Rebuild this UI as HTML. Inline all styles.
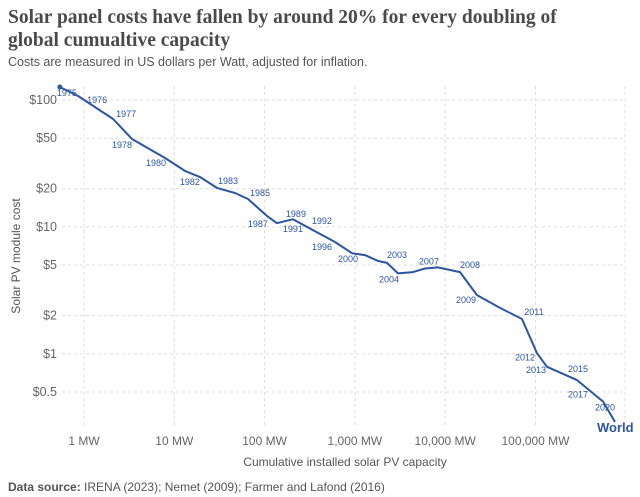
<!DOCTYPE html>
<html><head><meta charset="utf-8"><style>
body{margin:0;background:#fff;width:640px;height:497px;overflow:hidden;font-family:"Liberation Sans",sans-serif}
svg{display:block}
</style></head><body>
<svg id="c" width="640" height="497">
<text x="8" y="23" font-family="Liberation Serif,serif" font-weight="bold" font-size="19.5" fill="#4a4a4a">Solar panel costs have fallen by around 20% for every doubling of</text>
<text x="8" y="46" font-family="Liberation Serif,serif" font-weight="bold" font-size="19.5" fill="#4a4a4a">global cumualtive capacity</text>
<text x="8" y="66" font-size="12.5" fill="#555">Costs are measured in US dollars per Watt, adjusted for inflation.</text>
<text transform="translate(20,256) rotate(-90)" text-anchor="middle" font-size="12" fill="#555">Solar PV module cost</text>
<text x="345" y="466" text-anchor="middle" font-size="12" fill="#555">Cumulative installed solar PV capacity</text>
<text x="8" y="491" font-size="12" fill="#555"><tspan font-weight="bold">Data source:</tspan> IRENA (2023); Nemet (2009); Farmer and Lafond (2016)</text>
<g id="grid"></g><g id="axes"></g><g id="series"></g><g id="labels"></g>
</svg>
<script>
const capacityMW=[0.54,0.86,2.1,3.4,7.9,13.1,19.3,29.7,47,65.5,106,137,206,410,602,929,1294,1803,2266,3000,4400,5970,8310,14580,22500,40450,70800,104000,134000,288000,560000,759000];
const costUSD=[126.6,107.5,70.8,49.3,34.9,27.6,24.7,20.3,18.5,16.6,12.2,10.7,11.5,8.8,7.6,6.2,6.0,5.4,5.2,4.3,4.4,4.7,4.8,4.4,2.9,2.3,1.88,1.01,0.79,0.62,0.42,0.29];
const labelYears=["1975","1976","1977","1978","1980","1982","1983","1985","1987","1989","1991","1992","1996","2000","2003","2004","2007","2008","2009","2011","2012","2013","2015","2017","2020"];
const labelPoint=[0,1,2,3,4,5,7,9,10,12,11,13,14,15,18,19,22,23,24,26,27,28,29,30,30];
const labelDX=[7,19,13,-10,-9,5,11,12,-9,3,16,2,-13,-4,10,-9,-9,10,-11,12,-12,-11,1,-25,2];
const labelDY=[6,4,-5,6,5,11,-7,-6,8,-5,6,-13,5,6,-8,6,-6,-7,5,-7,4,3,-11,-7,6];
const xTicks=[1,10,100,1000,10000,100000];
const xTickLabels=["1 MW","10 MW","100 MW","1,000 MW","10,000 MW","100,000 MW"];
const yTicks=[100,50,20,10,5,2,1,0.5];
const yTickLabels=["$100","$50","$20","$10","$5","$2","$1","$0.5"];
const X=v=>84+90.3*Math.log10(v);
const Y=v=>100+126.9*(2-Math.log10(v));
const NS="http://www.w3.org/2000/svg";
function mk(p,t,a){const e=document.createElementNS(NS,t);for(const k in a)e.setAttribute(k,a[k]);p.appendChild(e);return e;}
const grid=document.getElementById('grid'),axes=document.getElementById('axes'),ser=document.getElementById('series'),lab=document.getElementById('labels');
xTicks.forEach((v,i)=>{
 const l=mk(grid,'line',{x1:X(v),x2:X(v),y1:86,y2:428,stroke:'#ddd','stroke-dasharray':'3,3'});
 
 
 const t=mk(axes,'text',{x:X(v),y:445,'text-anchor':'middle','font-size':12,fill:'#666'});
 t.textContent=xTickLabels[i];
 
 
});
const rl=mk(grid,'line',{x1:625,x2:625,y1:86,y2:428,stroke:'#ddd','stroke-dasharray':'3,3'});


yTicks.forEach((v,i)=>{
 const l=mk(grid,'line',{x1:62,x2:625,y1:Y(v),y2:Y(v),stroke:'#ddd','stroke-dasharray':'3,3'});
 
 
 const t=mk(axes,'text',{x:57,y:Y(v)+4,'text-anchor':'end','font-size':12.5,fill:'#666'});
 t.textContent=yTickLabels[i];
 
 
});
const d=capacityMW.map((v,i)=>(i?'L':'M')+X(v).toFixed(1)+','+Y(costUSD[i]).toFixed(1)).join('');
const path=mk(ser,'path',{d:d,fill:'none',stroke:'#2c55a5','stroke-width':2,'stroke-linejoin':'round'});


const dot=mk(ser,'circle',{cx:X(capacityMW[0]),cy:Y(costUSD[0]),r:2.5,fill:'#2c55a5'});


labelYears.forEach((y,i)=>{
 const p=labelPoint[i];
 const t=mk(lab,'text',{x:X(capacityMW[p])+labelDX[i],y:Y(costUSD[p])+labelDY[i]+3,'text-anchor':'middle','font-size':9,fill:'#2c55a5'});
 t.textContent=y;
 
 
});
const w=mk(lab,'text',{x:597,y:432,'font-size':13,'font-weight':'bold',fill:'#2c55a5'});
w.textContent='World';


</script>
</body></html>
